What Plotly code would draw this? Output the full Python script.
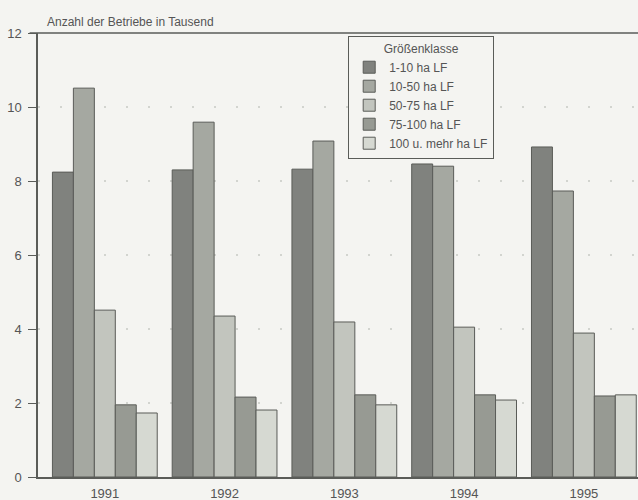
import plotly.graph_objects as go

# Number of farms (thousands) by size class, 1991-1995
jahre = ["1991", "1992", "1993", "1994", "1995"]
klassen = ["1-10 ha LF", "10-50 ha LF", "50-75 ha LF", "75-100 ha LF", "100 u. mehr ha LF"]
werte_1_10 = [8.24, 8.30, 8.32, 8.46, 8.92]
werte_10_50 = [10.51, 9.59, 9.08, 8.40, 7.73]
werte_50_75 = [4.51, 4.35, 4.19, 4.05, 3.89]
werte_75_100 = [1.95, 2.16, 2.22, 2.22, 2.19]
werte_100_plus = [1.73, 1.81, 1.95, 2.08, 2.22]
y_ticks = [0, 2, 4, 6, 8, 10, 12]

serien = [werte_1_10, werte_10_50, werte_50_75, werte_75_100, werte_100_plus]
farben = ["#80827e", "#a5a8a1", "#c2c5be", "#979a93", "#d6d9d2"]

bg = "#f4f4f1"
txt = "#555555"
linie = "#5a5c58"

fig = go.Figure()
for name, vals, col in zip(klassen, serien, farben):
    fig.add_trace(go.Bar(
        x=list(range(len(jahre))), y=vals, name=name,
        marker=dict(color=col, line=dict(color=linie, width=1)),
    ))

fig.update_layout(
    width=638, height=500,
    margin=dict(l=38, r=0, t=33, b=23),
    paper_bgcolor=bg, plot_bgcolor=bg,
    font=dict(family="Liberation Sans, Arial, sans-serif", size=13, color=txt),
    barmode="group", bargap=0.125, bargroupgap=0,
    showlegend=True,
    legend=dict(
        x=0.517, y=0.993, xanchor="left", yanchor="top",
        bgcolor=bg, bordercolor=linie, borderwidth=1,
        title=dict(text="Größenklasse", side="top center", font=dict(size=12, color=txt)),
        font=dict(size=12, color=txt),
        tracegroupgap=0, itemwidth=30,
    ),
    annotations=[dict(
        text="Anzahl der Betriebe in Tausend", xref="paper", yref="paper",
        x=0.012, y=1, xanchor="left", yanchor="bottom", yshift=2,
        showarrow=False, font=dict(size=12, color=txt),
    )],
    shapes=[dict(
        type="line", xref="paper", yref="paper", x0=-0.014, x1=1, y0=1, y1=1,
        line=dict(color=linie, width=1.5),
    )],
)

fig.update_xaxes(
    range=[-0.558, 4.452], tickmode="array",
    tickvals=list(range(len(jahre))), ticktext=jahre,
    showgrid=False, showline=True, linecolor=linie, linewidth=1.5,
    ticks="", zeroline=False, ticklabelstandoff=4,
)
fig.update_yaxes(
    range=[0, 12], tickvals=y_ticks,
    showline=True, linecolor=linie, linewidth=1.5,
    ticks="outside", ticklen=8, tickcolor=linie,
    showgrid=True, gridcolor="#d2d4cf", griddash="2px,20px", gridwidth=2,
    zeroline=False, ticklabelstandoff=4,
)

fig.write_html("out.html")
